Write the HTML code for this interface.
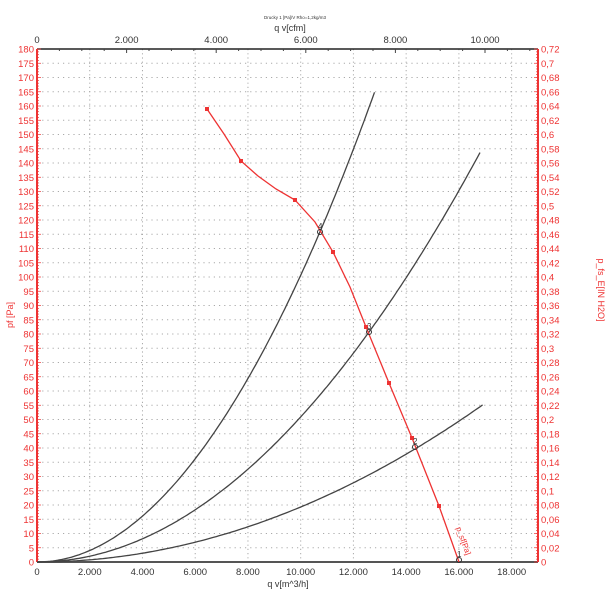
<!DOCTYPE html>
<html><head><meta charset="utf-8"><style>
body{margin:0;background:#fff}
svg{display:block;font-family:"Liberation Sans",sans-serif}
</style></head><body>
<svg id="s" width="608" height="602" xmlns="http://www.w3.org/2000/svg"></svg>
<script>
const s=document.getElementById('s');
const X0=37,X1=538,Y0=562,Y1=49;
const xs=q=>X0+(q/19000)*(X1-X0);
const ys=p=>Y0-(p/180)*(Y0-Y1);
let h='';
for(let p=5;p<180;p+=5){h+=`<line x1="${X0}" x2="${X1}" y1="${ys(p)}" y2="${ys(p)}" stroke="#aaa" stroke-width="1" stroke-dasharray="1.2,4"/>`;}
for(let q=2000;q<19000;q+=2000){h+=`<line y1="${Y1}" y2="${Y0}" x1="${xs(q)}" x2="${xs(q)}" stroke="#aaa" stroke-width="1" stroke-dasharray="1.2,3"/>`;}
h+=`<line x1="${X0}" x2="${X1}" y1="${Y1}" y2="${Y1}" stroke="#222" stroke-width="1.5"/>`;
for(let c=0;c<=11000;c+=500){const x=xs(c*1.699);if(x>X1)break;h+=`<line x1="${x}" x2="${x}" y1="${Y1}" y2="${Y1+(c%2000==0?4:2)}" stroke="#444"/>`;}
for(let c=0;c<=10000;c+=2000){const x=xs(c*1.699);h+=`<text x="${x}" y="43" font-size="9.5" fill="#333" text-anchor="middle">${c==0?'0':(c/1000)+'.000'}</text>`;}
h+=`<text x="290" y="31" font-size="9" fill="#333" text-anchor="middle">q v[cfm]</text>`;
h+=`<text x="295" y="19" font-size="4.5" fill="#333" text-anchor="middle">Drucky 1 [Pa]/V Rho=1,2kg/m3</text>`;
h+=`<line x1="${X0}" x2="${X1}" y1="${Y0}" y2="${Y0}" stroke="#555" stroke-width="2"/>`;
for(let q=0;q<=18000;q+=2000){h+=`<text x="${xs(q)}" y="575" font-size="9.5" fill="#333" text-anchor="middle">${q==0?'0':(q/1000)+'.000'}</text>`;}
h+=`<text x="288" y="587" font-size="9" fill="#333" text-anchor="middle">q v[m^3/h]</text>`;
h+=`<line x1="${X0}" x2="${X0}" y1="${Y1}" y2="${Y0}" stroke="#e33" stroke-width="2"/>`;
for(let p=0;p<=180;p+=5){h+=`<text x="34" y="${ys(p)+3.5}" font-size="9.5" fill="#e33" text-anchor="end">${p}</text>`;}
for(let p=0;p<=180;p+=1){h+=`<line x1="${X0}" x2="${X0+(p%5?2:4)}" y1="${ys(p)}" y2="${ys(p)}" stroke="#e33" stroke-width="0.7"/>`;}
h+=`<text transform="translate(13,315) rotate(-90)" font-size="9" fill="#e33" text-anchor="middle">pf [Pa]</text>`;
h+=`<line x1="${X1}" x2="${X1}" y1="${Y1}" y2="${Y0}" stroke="#e33" stroke-width="2"/>`;
for(let i=0;i<=36;i++){const v=i*0.02;const y=ys(i*5);let t=i==0?'0':(Math.round(v*100)/100).toString().replace('.',',');h+=`<text x="541" y="${y+3.5}" font-size="9.5" fill="#e33">${t}</text>`;}
for(let p=0;p<=180;p+=1){h+=`<line x1="${X1}" x2="${X1-(p%5?2:4)}" y1="${ys(p)}" y2="${ys(p)}" stroke="#e33" stroke-width="0.7"/>`;}
h+=`<text transform="translate(598,290) rotate(90)" font-size="9" fill="#e33" text-anchor="middle">p_fs_E[IN H2O]</text>`;
function quad(b,qmax){let pts=[];for(let q=0;q<=qmax;q+=100){const k=q/1000;pts.push(xs(q).toFixed(1)+','+ys(b*k*k).toFixed(1));}return `<polyline points="${pts.join(' ')}" fill="none" stroke="#444" stroke-width="1.3"/>`;}
h+=quad(1.006,12820);
h+=quad(0.509,16800);
h+=quad(0.193,16950);
const rp=[[207,109],[224,134],[241,161],[258,176],[276,189],[295,200],[315,222],[333,252],[350,287],[366,327],[389,383],[412,438],[439,506],[459,562]];
h+=`<polyline points="${rp.map(p=>p.join(',')).join(' ')}" fill="none" stroke="#e33" stroke-width="1.3"/>`;
[[207,109],[241,161],[295,200],[333,252],[366,327],[389,383],[412,438],[439,506]].forEach(p=>h+=`<rect x="${p[0]-2}" y="${p[1]-2}" width="4" height="4" fill="#e33"/>`);
[[320,232,'4'],[369,332,'3'],[415,447,'2'],[459,560,'1']].forEach(o=>{h+=`<circle cx="${o[0]}" cy="${o[1]}" r="2.5" fill="none" stroke="#333"/><text x="${o[0]-2}" y="${o[1]-3}" font-size="8" fill="#333">${o[2]}</text>`;});
h+=`<text transform="translate(456,528) rotate(70)" font-size="8" fill="#e33">p_sf[Pa]</text>`;
s.innerHTML=h;
</script>
</body></html>
